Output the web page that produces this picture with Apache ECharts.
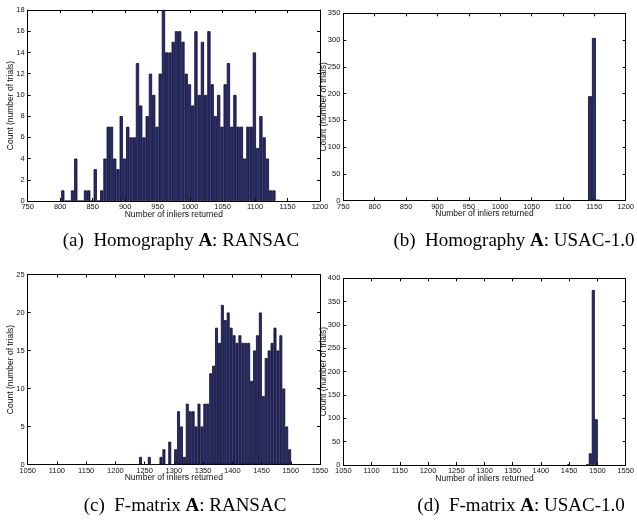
<!DOCTYPE html>
<html>
<head>
<meta charset="utf-8">
<script src="https://cdn.jsdelivr.net/npm/echarts@6/dist/echarts.min.js"></script>
<style>
  html, body { margin: 0; padding: 0; background: #fff; }
  #main { width: 637px; height: 523px; }
</style>
</head>
<body>
<div id="main"></div>
<script>
// (a) Homography A: RANSAC  - bins of 5 starting at 804
const aFirstBin = 804;
const aBinWidth = 5;
const aCounts = [1, 0, 0, 1, 4, 0, 0, 1, 1, 0, 3, 0, 1, 4, 7, 7, 4, 3, 8, 4,
  7, 6, 6, 13, 9, 6, 8, 12, 10, 7, 12, 18, 14, 14, 15, 16, 16, 15, 12, 11,
  9, 16, 10, 15, 10, 16, 11, 8, 10, 7, 11, 13, 7, 10, 7, 7, 4, 7, 7, 14,
  5, 8, 6, 4, 1, 1];

// (b) Homography A: USAC-1.0
const bCenters = [1143.2, 1149.4, 1155.6];
const bCounts = [195, 304, 1];

// (c) F-matrix A: RANSAC
const cFirstBin = 1243;
const cBinWidth = 5;
const cCounts = [1, 0, 0, 1, 0, 0, 0, 1, 2, 0, 3, 0, 2, 7, 5, 1, 8, 7, 7, 5,
  8, 5, 8, 8, 12, 13, 18, 16, 21, 19, 20, 18, 17, 16, 17, 16, 16, 16, 11, 15,
  17, 20, 9, 14, 15, 16, 18, 15, 17, 10, 5, 2];

// (d) F-matrix A: USAC-1.0
const dCenters = [1449, 1482.1, 1487.4, 1492.7, 1498];
const dCounts = [1, 1, 25, 375, 98];

// axis ranges
const xRangeA = [750, 1200];
const xRangeC = [1050, 1550];
const xStep = 50;
const yMax = [18, 350, 25, 400];
const yStep = [2, 50, 5, 50];

const captions = [
  '(a)  Homography {b|A}: RANSAC',
  '(b)  Homography {b|A}: USAC-1.0',
  '(c)  F-matrix {b|A}: RANSAC',
  '(d)  F-matrix {b|A}: USAC-1.0'
];

function binned(first, width, counts) {
  return counts.map((c, i) => [first + i * width, c]);
}
function paired(centers, counts) {
  return centers.map((x, i) => [x, counts[i]]);
}

const panelData = [
  binned(aFirstBin, aBinWidth, aCounts),
  paired(bCenters, bCounts),
  binned(cFirstBin, cBinWidth, cCounts),
  paired(dCenters, dCounts)
];
const xRanges = [xRangeA, xRangeA, xRangeC, xRangeC];

const grids = [
  { left: 27.7, top: 10, width: 292.3, height: 191 },
  { left: 343.3, top: 13.3, width: 289.4, height: 187.2 },
  { left: 27.7, top: 274.5, width: 292.3, height: 190 },
  { left: 343.3, top: 278.3, width: 289.4, height: 186.7 }
];
const yNameGap = [12.7, 15.3, 12.7, 15.3];
const captionPos = [[181, 241], [514, 241], [185, 506], [521, 506]];

const labelFont = 'Liberation Sans';
const lineStyle = { color: '#000', width: 1 };
const plain = v => String(v);

const xAxes = [];
const yAxes = [];
const series = [];

grids.forEach((g, i) => {
  // bottom + top x axis (matlab box with ticks all round)
  xAxes.push({
    type: 'value', gridIndex: i, position: 'bottom',
    min: xRanges[i][0], max: xRanges[i][1], interval: xStep,
    axisLine: { show: true, onZero: false, lineStyle: lineStyle },
    axisTick: { show: true, inside: true, length: 3, lineStyle: lineStyle },
    axisLabel: { fontSize: 7.5, color: '#111', margin: 2, fontFamily: labelFont,
      formatter: plain, showMinLabel: true, showMaxLabel: true },
    splitLine: { show: false },
    name: 'Number of inliers returned', nameLocation: 'middle', nameGap: 9,
    nameMoveOverlap: false,
    nameTextStyle: { fontSize: 8.5, color: '#111', fontFamily: labelFont }
  });
  xAxes.push({
    type: 'value', gridIndex: i, position: 'top',
    min: xRanges[i][0], max: xRanges[i][1], interval: xStep,
    axisLine: { show: true, onZero: false, lineStyle: lineStyle },
    axisTick: { show: true, inside: true, length: 3, lineStyle: lineStyle },
    axisLabel: { show: false },
    splitLine: { show: false }
  });
  yAxes.push({
    type: 'value', gridIndex: i, position: 'left',
    min: 0, max: yMax[i], interval: yStep[i],
    axisLine: { show: true, onZero: false, lineStyle: lineStyle },
    axisTick: { show: true, inside: true, length: 3, lineStyle: lineStyle },
    axisLabel: { fontSize: 7.5, color: '#111', margin: 3, fontFamily: labelFont,
      formatter: plain },
    splitLine: { show: false },
    name: 'Count (number of trials)', nameLocation: 'middle', nameGap: yNameGap[i],
    nameRotate: 90, nameMoveOverlap: false,
    nameTextStyle: { fontSize: 8.5, color: '#111', fontFamily: labelFont }
  });
  yAxes.push({
    type: 'value', gridIndex: i, position: 'right',
    min: 0, max: yMax[i], interval: yStep[i],
    axisLine: { show: true, onZero: false, lineStyle: lineStyle },
    axisTick: { show: true, inside: true, length: 3, lineStyle: lineStyle },
    axisLabel: { show: false },
    splitLine: { show: false }
  });
  series.push({
    type: 'bar',
    xAxisIndex: i * 2,
    yAxisIndex: i * 2,
    data: panelData[i],
    barWidth: '100%',
    itemStyle: { color: '#282b7a', borderColor: '#0b0b22', borderWidth: 0.8 },
    silent: true
  });
});

const graphics = captions.map((t, i) => ({
  type: 'text',
  x: captionPos[i][0],
  y: captionPos[i][1],
  style: {
    text: t,
    align: 'center',
    verticalAlign: 'middle',
    fontFamily: 'Liberation Serif',
    fontSize: 19,
    fill: '#000',
    rich: {
      b: { fontFamily: 'Liberation Serif', fontSize: 19, fontWeight: 'bold', fill: '#000' }
    }
  }
}));

const chart = echarts.init(document.getElementById('main'));
chart.setOption({
  backgroundColor: '#fff',
  animation: false,
  grid: grids,
  xAxis: xAxes,
  yAxis: yAxes,
  series: series,
  graphic: graphics
});
</script>
</body>
</html>
